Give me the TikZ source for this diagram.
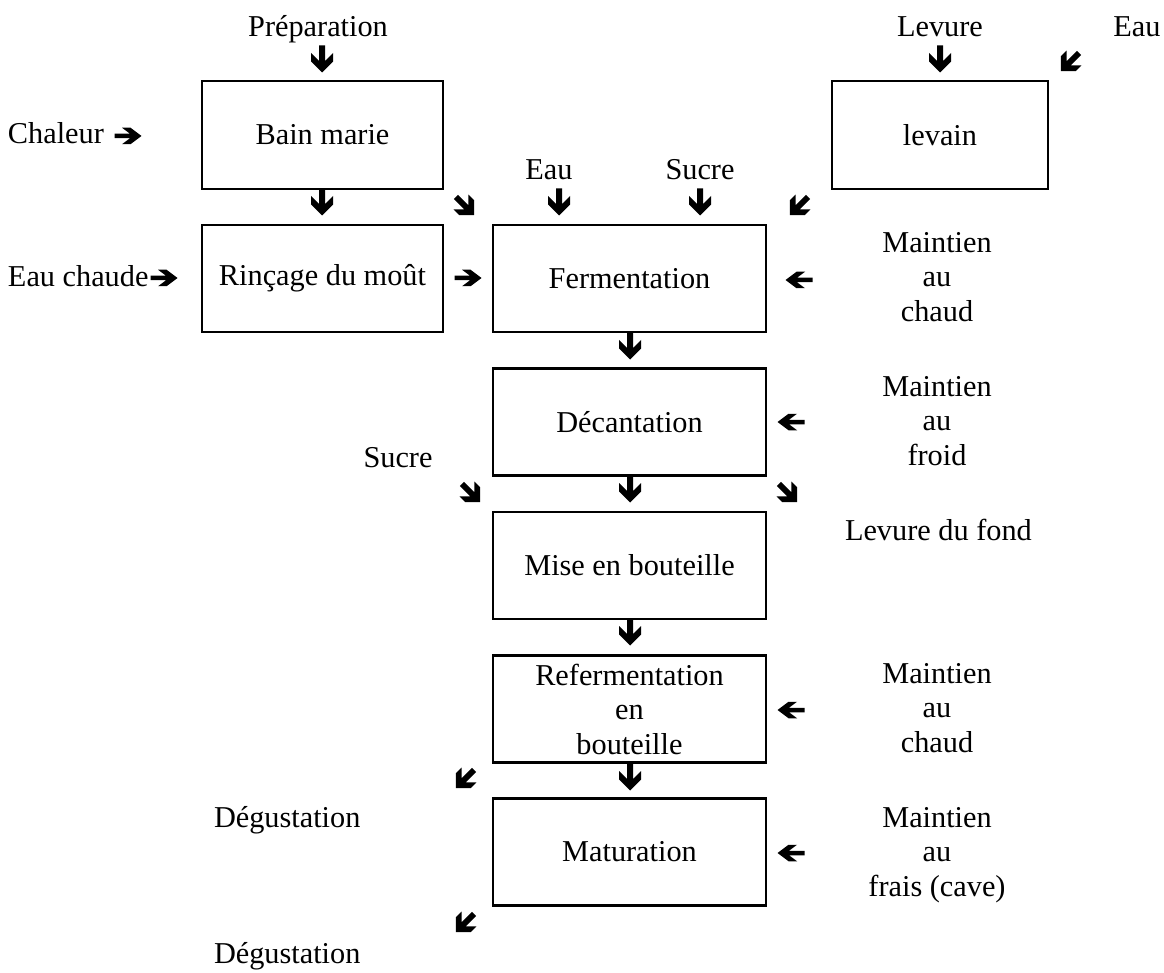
\documentclass[tikz,border=0pt]{standalone}
\usepackage{fontspec}
\setmainfont{Liberation Serif}
\begin{document}
\begin{tikzpicture}[x=1pt,y=-1pt,
  every node/.style={inner sep=0pt,outer sep=0pt,font=\fontsize{30.3}{34.5}\selectfont},
  box/.style={draw,line width=2.2pt,align=center},
  mainbox/.style={box,minimum width=273pt,minimum height=107pt},
  lbl/.style={anchor=base},
  lblw/.style={anchor=base west},
  stack/.style={align=center,anchor=center},
  warr/.pic={\fill (13.5,0) -- (2.5,-11) -- (-6,-11) -- (2,-3) -- (-13.5,-3)
       -- (-13.5,3) -- (2,3) -- (-6,11) -- (2.5,11) -- cycle;},
  dn/.style={rotate=-90},
  rt/.style={yscale=0.75},
  lt/.style={rotate=180,yscale=0.75},
  dr/.style={rotate=-45,scale=0.95},
  dl/.style={rotate=-135,scale=0.95}]
\useasboundingbox (0,0) rectangle (1164,973);

% boxes
\node[box,minimum width=241pt,minimum height=108pt] (bain) at (322.5,135) {Bain marie};
\node[box,minimum width=241pt,minimum height=107pt] (rinc) at (322.5,278.5) {Rinçage du moût};
\node[box,minimum width=216pt,minimum height=108pt] (lev) at (940,135) {levain};
\node[mainbox] (ferm) at (629.5,278.5) {Fermentation};
\node[mainbox] (dec) at (629.5,422) {Décantation};
\node[mainbox] (mise) at (629.5,565.5) {Mise en bouteille};
\node[mainbox] (referm) at (629.5,709) {Refermentation\\en\\bouteille};
\node[mainbox] (mat) at (629.5,852) {Maturation};

% labels
\node[lbl] (prep) at (318,37) {Préparation};
\node[lbl] (levure) at (940,37) {Levure};
\node[lbl] (eautop) at (1137,37) {Eau};
\node[lblw] (chaleur) at (8,144) {Chaleur};
\node[lblw] (eauch) at (8,287) {Eau chaude};
\node[lbl] (eaumid) at (549,180) {Eau};
\node[lbl] (sucremid) at (700,180) {Sucre};
\node[stack] (mc1) at (937,277) {Maintien\\au\\chaud};
\node[stack] (mf) at (937,421) {Maintien\\au\\froid};
\node[lbl] (sucre) at (398,467) {Sucre};
\node[lblw] (lfond) at (845,540) {Levure du fond};
\node[stack] (mc2) at (937,708) {Maintien\\au\\chaud};
\node[stack] (mfr) at (937,855) {Maintien\\au\\frais (cave)};
\node[lblw] (deg1) at (214,827) {Dégustation};
\node[lblw] (deg2) at (214,963) {Dégustation};

% arrows (glyph-like)
\pic[dn] at (322,59) {warr};
\pic[dn] at (322,202) {warr};
\pic[dn] at (940,59) {warr};
\pic[dn] at (559,202) {warr};
\pic[dn] at (700,202) {warr};
\pic[dn] at (630,346) {warr};
\pic[dn] at (630,489) {warr};
\pic[dn] at (630,632) {warr};
\pic[dn] at (630,777) {warr};
\pic[rt] at (128,136) {warr};
\pic[rt] at (164,278) {warr};
\pic[rt] at (468,278) {warr};
\pic[lt] at (799,280) {warr};
\pic[lt] at (791,422) {warr};
\pic[lt] at (791,710) {warr};
\pic[lt] at (791,853) {warr};
\pic[dr] at (465,206) {warr};
\pic[dr] at (471,493) {warr};
\pic[dr] at (788,493) {warr};
\pic[dl] at (1070,62) {warr};
\pic[dl] at (799,206) {warr};
\pic[dl] at (465,779) {warr};
\pic[dl] at (465,923) {warr};
\end{tikzpicture}
\end{document}
